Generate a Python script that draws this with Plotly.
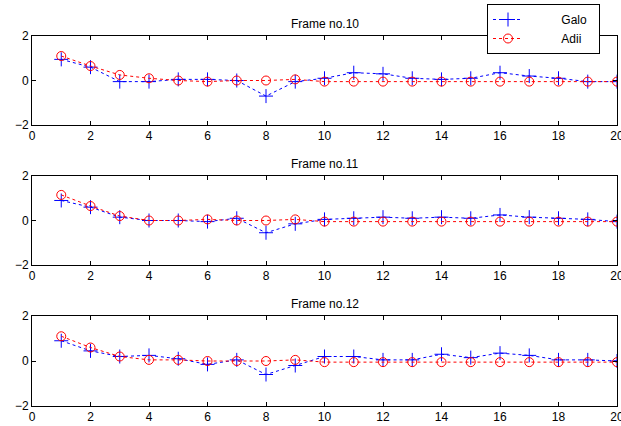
import plotly.graph_objects as go
from plotly.subplots import make_subplots

x = list(range(1, 21))
titles = ["Frame no.10", "Frame no.11", "Frame no.12"]

galo_10 = [0.95, 0.6, -0.05, -0.05, 0.05, 0.05, 0.0, -0.7, -0.05, 0.1,
           0.35, 0.3, 0.1, 0.05, 0.1, 0.35, 0.2, 0.1, -0.05, -0.05]
adii_10 = [1.1, 0.65, 0.25, 0.1, 0.0, -0.05, 0.0, 0.0, 0.05, -0.05,
           -0.05, -0.05, -0.05, -0.05, -0.05, -0.05, -0.05, -0.05, -0.05, -0.05]

galo_11 = [0.9, 0.6, 0.15, 0.0, 0.0, -0.05, 0.1, -0.55, -0.15, 0.05,
           0.1, 0.15, 0.1, 0.15, 0.1, 0.25, 0.15, 0.1, 0.05, -0.05]
adii_11 = [1.15, 0.65, 0.2, 0.0, 0.0, 0.05, 0.0, 0.0, 0.05, -0.05,
           -0.05, -0.05, -0.05, -0.05, -0.05, -0.05, -0.05, -0.05, -0.05, -0.05]

galo_12 = [0.9, 0.45, 0.2, 0.25, 0.1, -0.15, 0.05, -0.6, -0.2, 0.2,
           0.2, 0.05, 0.05, 0.3, 0.15, 0.35, 0.25, 0.05, 0.05, 0.0]
adii_12 = [1.1, 0.6, 0.2, 0.05, 0.05, 0.0, 0.0, 0.0, 0.05, -0.05,
           -0.05, -0.05, -0.05, -0.05, -0.05, -0.05, -0.05, -0.05, -0.05, -0.05]

galo = [galo_10, galo_11, galo_12]
adii = [adii_10, adii_11, adii_12]
series_names = ["Galo", "Adii"]

W, H = 621, 426
ml, mr, mt, mb = 32, 4, 36, 20
plot_h = H - mt - mb
panels_px = [(36, 125), (176, 265), (316, 406)]
domains = [((H - mb - b) / plot_h, (H - mb - t) / plot_h) for t, b in panels_px]

fig = make_subplots(rows=3, cols=1)
font = dict(family="Liberation Sans, Arial, sans-serif", size=12, color="black")
pad = "\u00a0" * 10
tail = "\u00a0" * 2

for i in range(3):
    fig.add_trace(go.Scatter(
        x=x, y=galo[i], name=pad + series_names[0] + tail, mode="lines+markers",
        line=dict(color="#0000ff", dash="3px,3px", width=1),
        marker=dict(symbol="cross-thin", size=10, line=dict(color="#0000ff", width=1)),
        showlegend=(i == 0)), row=i + 1, col=1)
    fig.add_trace(go.Scatter(
        x=x, y=adii[i], name=pad + series_names[1] + tail, mode="lines+markers",
        line=dict(color="#ff0000", dash="3px,3px", width=1),
        marker=dict(symbol="circle-open", size=9, color="#ff0000", line=dict(width=1)),
        showlegend=(i == 0)), row=i + 1, col=1)

axis_style = dict(showline=True, linecolor="black", linewidth=1, mirror="ticks",
                  ticks="inside", ticklen=4, tickcolor="black", showgrid=False,
                  zeroline=False, tickfont=font, ticklabeloverflow="allow")
for i in range(3):
    xa = "xaxis" if i == 0 else f"xaxis{i+1}"
    ya = "yaxis" if i == 0 else f"yaxis{i+1}"
    fig.layout[xa].update(range=[0, 20], tick0=0, dtick=2, **axis_style)
    fig.layout[ya].update(range=[-2, 2], tick0=-2, dtick=2,
                          domain=[domains[i][0], domains[i][1]], **axis_style)
    fig.add_annotation(text=titles[i], xref="paper", yref="paper",
                       x=0.5, y=domains[i][1], yshift=3, yanchor="bottom",
                       showarrow=False, font=font)

fig.update_layout(
    width=W, height=H,
    margin=dict(l=ml, r=mr, t=mt, b=mb, autoexpand=False),
    paper_bgcolor="white", plot_bgcolor="white",
    font=font,
    legend=dict(x=(487 - ml) / (W - ml - mr), y=(H - mb - 4) / plot_h,
                xanchor="left", yanchor="top",
                bgcolor="white", bordercolor="black", borderwidth=1,
                font=font, tracegroupgap=0),
)

fig.write_html("out.html", config={"displayModeBar": False},
               post_script="document.body.style.margin='0';document.body.style.overflow='hidden';")
